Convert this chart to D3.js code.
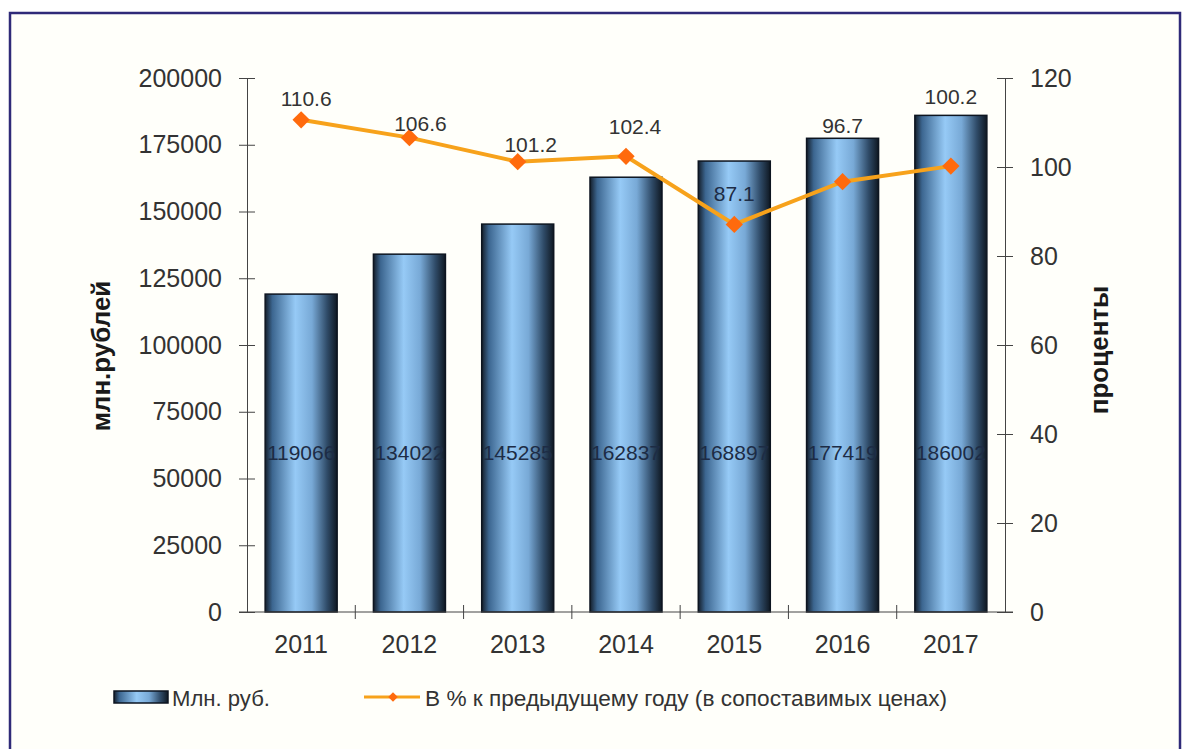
<!DOCTYPE html>
<html>
<head>
<meta charset="utf-8">
<script src="https://cdn.jsdelivr.net/npm/d3@7"></script>
<style>
  html, body { margin: 0; padding: 0; background: #fff; }
  svg text { font-family: 'Liberation Sans', Arial, sans-serif; }
</style>
</head>
<body>
<svg id="chart"></svg>
<script>
const years    = ['2011', '2012', '2013', '2014', '2015', '2016', '2017']
const rubles   = [119066, 134022, 145285, 162837, 168897, 177419, 186002]
const percents = [110.6, 106.6, 101.2, 102.4, 87.1, 96.7, 100.2]
const leftTicks  = [0, 25000, 50000, 75000, 100000, 125000, 150000, 175000, 200000]
const rightTicks = [0, 20, 40, 60, 80, 100, 120]

// label nudges for the percent labels (layout only)
const pctDx = [5, 11, 13, 9, 0, 0, 0]
const pctDy = [-14, -7, -10, -22, -23, -49, -62]

const W = 1183, H = 749
const m = { left: 247, right: 1005, top: 78, bottom: 612 }
const FONT = "'Liberation Sans', Arial, sans-serif"

const svg = d3.select('#chart').attr('width', W).attr('height', H)

// frame
svg.append('rect').attr('x', 0).attr('y', 0).attr('width', W).attr('height', H).attr('fill', '#fff')
svg.append('rect')
  .attr('x', 10).attr('y', 13).attr('width', 1170).attr('height', 760)
  .attr('fill', '#fffffa')
  .attr('stroke', '#2f2a78').attr('stroke-width', 2.5)

// gradient for bars
const defs = svg.append('defs')
const grad = defs.append('linearGradient').attr('id', 'barGrad')
  .attr('x1', '0%').attr('x2', '100%').attr('y1', '0%').attr('y2', '0%')
grad.selectAll('stop')
  .data([[0, '#141e2a'], [0.1, '#3c6690'], [0.42, '#96caf6'], [0.65, '#78a9d6'], [0.86, '#2f4b68'], [1, '#0f1822']])
  .join('stop')
    .attr('offset', d => d[0])
    .attr('stop-color', d => d[1])

const x = d3.scaleBand().domain(years).range([m.left, m.right]).paddingInner(0).paddingOuter(0)
const yL = d3.scaleLinear().domain([0, 200000]).range([m.bottom, m.top])
const yR = d3.scaleLinear().domain([0, 120]).range([m.bottom, m.top])
const barW = x.bandwidth() * 0.665

// bars
svg.append('g')
  .selectAll('rect')
  .data(rubles)
  .join('rect')
    .attr('x', (d, i) => x(years[i]) + (x.bandwidth() - barW) / 2)
    .attr('y', d => yL(d))
    .attr('width', barW)
    .attr('height', d => yL(0) - yL(d))
    .attr('fill', 'url(#barGrad)')
    .attr('stroke', '#0d1520')
    .attr('stroke-width', 1.5)

// bar value labels
svg.append('g')
  .selectAll('text')
  .data(rubles)
  .join('text')
    .attr('x', (d, i) => x(years[i]) + x.bandwidth() / 2)
    .attr('y', 460)
    .attr('text-anchor', 'middle')
    .attr('fill', '#1d2c45')
    .attr('font-size', '21px')
    .text(d => d)

// left axis
const axL = svg.append('g')
  .attr('transform', `translate(${m.left},0)`)
  .call(d3.axisLeft(yL).tickValues(leftTicks).tickFormat(d3.format('d'))
    .tickSizeInner(8).tickSizeOuter(0).tickPadding(17))
axL.select('.domain').attr('stroke', '#444')
axL.selectAll('.tick line').attr('x1', 8).attr('x2', -8).attr('stroke', '#444')
axL.selectAll('.tick text').attr('font-size', '25px').attr('fill', '#333').attr('font-family', FONT)

// right axis
const axR = svg.append('g')
  .attr('transform', `translate(${m.right},0)`)
  .call(d3.axisRight(yR).tickValues(rightTicks).tickSizeInner(8).tickSizeOuter(0).tickPadding(17))
axR.select('.domain').attr('stroke', '#444')
axR.selectAll('.tick line').attr('x1', -8).attr('x2', 8).attr('stroke', '#444')
axR.selectAll('.tick text').attr('font-size', '25px').attr('fill', '#333').attr('font-family', FONT)

// bottom axis (ticks between categories)
svg.append('line')
  .attr('x1', m.left - 8).attr('x2', m.right + 8)
  .attr('y1', yL(0)).attr('y2', yL(0))
  .attr('stroke', '#444')
svg.append('g')
  .selectAll('line')
  .data(years.slice(1))
  .join('line')
    .attr('x1', d => x(d)).attr('x2', d => x(d))
    .attr('y1', yL(0) - 7).attr('y2', yL(0) + 7)
    .attr('stroke', '#444')
svg.append('g')
  .selectAll('text')
  .data(years)
  .join('text')
    .attr('x', d => x(d) + x.bandwidth() / 2)
    .attr('y', 653)
    .attr('text-anchor', 'middle')
    .attr('font-size', '25px')
    .attr('fill', '#333')
    .text(d => d)

// axis titles
svg.append('text')
  .attr('transform', 'translate(110,356) rotate(-90)')
  .attr('text-anchor', 'middle')
  .attr('font-size', '26px').attr('font-weight', 'bold').attr('fill', '#1a1a1a')
  .text('млн.рублей')
svg.append('text')
  .attr('transform', 'translate(1108,350) rotate(-90)')
  .attr('text-anchor', 'middle')
  .attr('font-size', '26px').attr('font-weight', 'bold').attr('fill', '#1a1a1a')
  .text('проценты')

// percent line
const cx = i => x(years[i]) + x.bandwidth() / 2
svg.append('path')
  .datum(percents)
  .attr('d', d3.line().x((d, i) => cx(i)).y(d => yR(d)))
  .attr('fill', 'none')
  .attr('stroke', '#f7a21b')
  .attr('stroke-width', 4)

svg.append('g')
  .selectAll('path')
  .data(percents)
  .join('path')
    .attr('transform', (d, i) => `translate(${cx(i)},${yR(d)}) rotate(45)`)
    .attr('d', d3.symbol(d3.symbolSquare, 150))
    .attr('fill', '#ff6a0d')

svg.append('g')
  .selectAll('text')
  .data(percents)
  .join('text')
    .attr('x', (d, i) => cx(i) + pctDx[i])
    .attr('y', (d, i) => yR(d) + pctDy[i])
    .attr('text-anchor', 'middle')
    .attr('font-size', '21px')
    .attr('fill', d => d < 90 ? '#1d2c45' : '#333')
    .text(d => d.toFixed(1))

// legend
const lg = svg.append('g')
lg.append('rect')
  .attr('x', 114).attr('y', 691).attr('width', 54).attr('height', 12)
  .attr('fill', 'url(#barGrad)').attr('stroke', '#0d1520').attr('stroke-width', 1.5)
lg.append('text').attr('x', 172).attr('y', 706)
  .attr('font-size', '22px').attr('fill', '#333')
  .attr('textLength', 98).attr('lengthAdjust', 'spacingAndGlyphs')
  .text('Млн. руб.')
lg.append('line')
  .attr('x1', 364).attr('x2', 420).attr('y1', 697).attr('y2', 697)
  .attr('stroke', '#f7a21b').attr('stroke-width', 3)
lg.append('path')
  .attr('transform', 'translate(393,697) rotate(45)')
  .attr('d', d3.symbol(d3.symbolSquare, 45))
  .attr('fill', '#ff6a0d')
lg.append('text').attr('x', 425).attr('y', 706)
  .attr('font-size', '22px').attr('fill', '#333')
  .attr('textLength', 522).attr('lengthAdjust', 'spacingAndGlyphs')
  .text('В % к предыдущему году (в сопоставимых ценах)')
</script>
</body>
</html>
